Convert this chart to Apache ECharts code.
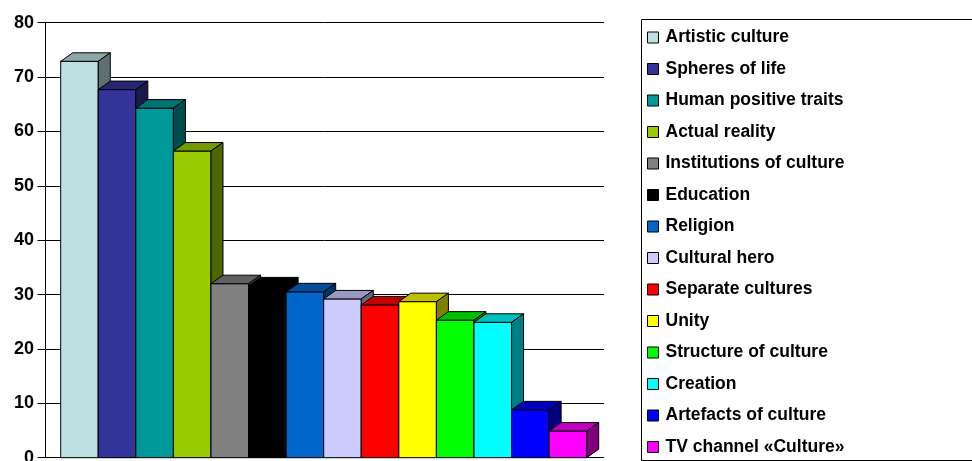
<!DOCTYPE html>
<html>
<head>
<meta charset="utf-8">
<script src="https://cdn.jsdelivr.net/npm/echarts@6/dist/echarts.min.js"></script>
<style>
  html, body { margin: 0; padding: 0; background: #fff; }
  #chart { width: 972px; height: 461px; }
</style>
</head>
<body>
<div id="chart"></div>
<script>
const categories = [
  'Artistic culture', 'Spheres of life', 'Human positive traits', 'Actual reality',
  'Institutions of culture', 'Education', 'Religion', 'Cultural hero',
  'Separate cultures', 'Unity', 'Structure of culture', 'Creation',
  'Artefacts of culture', 'TV channel «Culture»'
]
const values = [72.9, 67.7, 64.3, 56.4, 32.0, 31.6, 30.5, 29.2, 28.1, 28.7, 25.3, 24.9, 8.8, 4.9]
const colors = [
  '#BDE0E3', '#333399', '#009999', '#99CC00', '#808080', '#000000', '#0066CC',
  '#CCCCFF', '#FF0000', '#FFFF00', '#00FF00', '#00FFFF', '#0000FF', '#FF00FF'
]

// depth of the 3d bars
const DX = 12
const DY = 8.5

const shade = (hex, k) => {
  const n = parseInt(hex.slice(1), 16)
  const r = Math.round(((n >> 16) & 255) * k)
  const g = Math.round(((n >> 8) & 255) * k)
  const b = Math.round((n & 255) * k)
  return 'rgb(' + r + ',' + g + ',' + b + ')'
}

const makeRender = (color) => (params, api) => {
  const base = api.coord([api.value(0), 0])
  const top = api.coord([api.value(0), api.value(1)])
  const w = api.size([1, 0])[0]
  const x0 = base[0] - w / 2
  const x1 = base[0] + w / 2
  const yb = base[1]
  const yt = top[1]
  const edge = {stroke: '#000', lineWidth: 1}
  return {
    type: 'group',
    children: [
      {type: 'polygon', shape: {points: [[x0, yb], [x1, yb], [x1, yt], [x0, yt]]},
        style: Object.assign({fill: color}, edge)},
      {type: 'polygon', shape: {points: [[x0, yt], [x1, yt], [x1 + DX, yt - DY], [x0 + DX, yt - DY]]},
        style: Object.assign({fill: shade(color, 0.75)}, edge)},
      {type: 'polygon', shape: {points: [[x1, yb], [x1 + DX, yb - DY], [x1 + DX, yt - DY], [x1, yt]]},
        style: Object.assign({fill: shade(color, 0.5)}, edge)}
    ]
  }
}

const chart = echarts.init(document.getElementById('chart'))
const font = "'Liberation Sans', Arial, sans-serif"

const option = {
  animation: false,
  backgroundColor: '#fff',
  grid: [
    {left: 45, right: 368, top: 22.7, bottom: 3.3, outerBoundsMode: 'none', containLabel: false},
    {left: 60.7, right: 385.3, top: 22.7, bottom: 3.3, outerBoundsMode: 'none', containLabel: false}
  ],
  xAxis: [
    {gridIndex: 0, type: 'category', data: categories, show: false},
    {gridIndex: 1, type: 'category', data: categories, show: false}
  ],
  yAxis: [
    {
      gridIndex: 0, type: 'value', min: 0, max: 80, interval: 10,
      axisLine: {show: true, lineStyle: {color: '#000', width: 1}},
      axisTick: {show: true, length: 7.5, lineStyle: {color: '#000', width: 1}},
      axisLabel: {color: '#000', fontSize: 18, fontWeight: 'bold', fontFamily: font, margin: 11},
      splitLine: {show: true, lineStyle: {color: '#000', width: 1}}
    },
    {gridIndex: 1, type: 'value', min: 0, max: 80, show: false, splitLine: {show: false}}
  ],
  legend: {
    orient: 'vertical',
    left: 647,
    top: 27.5,
    padding: 0,
    icon: 'rect',
    itemWidth: 11,
    itemHeight: 11,
    itemGap: 11.5,
    itemStyle: {borderColor: '#000', borderWidth: 1},
    textStyle: {color: '#000', fontSize: 17.5, fontWeight: 'bold', fontFamily: font, lineHeight: 20, padding: [0, 0, 0, 2]},
    data: categories
  },
  graphic: [
    {type: 'rect', shape: {x: 641.5, y: 19.5, width: 400, height: 441}, style: {fill: 'none', stroke: '#000', lineWidth: 1}, z: 10}
  ],
  series: categories.map((name, i) => ({
    name: name,
    type: 'custom',
    xAxisIndex: 1,
    yAxisIndex: 1,
    itemStyle: {color: colors[i]},
    renderItem: makeRender(colors[i]),
    encode: {x: 0, y: 1},
    data: [[i, values[i]]],
    z: 2 + i
  }))
}

chart.setOption(option)
</script>
</body>
</html>
